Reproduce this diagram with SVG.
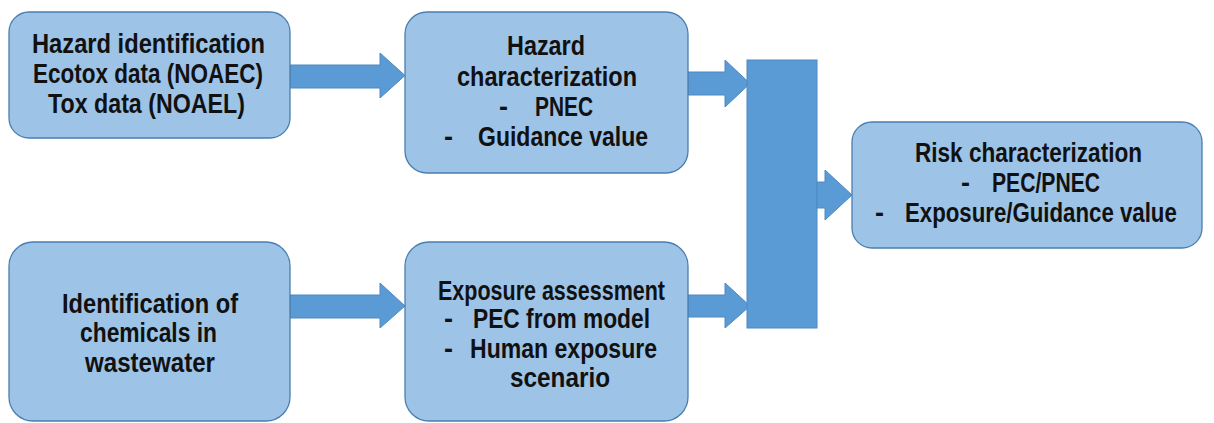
<svg xmlns="http://www.w3.org/2000/svg" width="1214" height="423" viewBox="0 0 1214 423">
<style>
.box{fill:#9DC3E6;stroke:#4A7EB0;stroke-width:1.3}
.arr{fill:#5B9BD5;stroke:#4F88C0;stroke-width:1}
text{font-family:"Liberation Sans",Arial,sans-serif;font-weight:bold;font-size:27px;fill:#111}
</style>
<rect width="1214" height="423" fill="#fff"/>
<g id="connectors">
<polygon class="arr" points="290,65 380,65 380,53 405,75.5 380,98 380,88 290,88"/>
<polygon class="arr" points="290,295 380,295 380,283 405,306 380,328 380,318 290,318"/>
<polygon class="arr" points="688,72 725,72 725,60 750,83.5 725,107 725,95 688,95"/>
<polygon class="arr" points="688,295 725,295 725,283 750,306 725,328 725,317 688,317"/>
<rect class="arr" x="747" y="60" width="70" height="268"/>
<polygon class="arr" points="817,182 825,182 825,170 852,195 825,220 825,208 817,208"/>
</g>
<g id="hazard-identification">
<rect class="box" x="9" y="12" width="281" height="126" rx="20"/>
<text x="32" y="53" textLength="233" lengthAdjust="spacingAndGlyphs">Hazard identification</text>
<text x="33" y="83" textLength="230" lengthAdjust="spacingAndGlyphs">Ecotox data (NOAEC)</text>
<text x="48" y="113" textLength="197" lengthAdjust="spacingAndGlyphs">Tox data (NOAEL)</text>
</g>
<g id="hazard-characterization">
<rect class="box" x="405" y="12" width="283" height="161" rx="22"/>
<text x="507" y="55" textLength="78" lengthAdjust="spacingAndGlyphs">Hazard</text>
<text x="457" y="86" textLength="180" lengthAdjust="spacingAndGlyphs">characterization</text>
<text y="116"><tspan x="499">-</tspan><tspan x="535" textLength="58" lengthAdjust="spacingAndGlyphs">PNEC</tspan></text>
<text y="146"><tspan x="444">-</tspan><tspan x="478" textLength="170" lengthAdjust="spacingAndGlyphs">Guidance value</tspan></text>
</g>
<g id="identification-chemicals">
<rect class="box" x="9" y="242" width="281" height="179" rx="24"/>
<text x="62" y="313" textLength="176" lengthAdjust="spacingAndGlyphs">Identification of</text>
<text x="80" y="342" textLength="137" lengthAdjust="spacingAndGlyphs">chemicals in</text>
<text x="85" y="372" textLength="130" lengthAdjust="spacingAndGlyphs">wastewater</text>
</g>
<g id="exposure-assessment">
<rect class="box" x="405" y="242" width="283" height="179" rx="24"/>
<text x="438" y="300" textLength="227" lengthAdjust="spacingAndGlyphs">Exposure assessment</text>
<text y="328"><tspan x="444">-</tspan><tspan x="473" textLength="177" lengthAdjust="spacingAndGlyphs">PEC from model</tspan></text>
<text y="358"><tspan x="444">-</tspan><tspan x="470" textLength="187" lengthAdjust="spacingAndGlyphs">Human exposure</tspan></text>
<text x="510" y="387" textLength="100" lengthAdjust="spacingAndGlyphs">scenario</text>
</g>
<g id="risk-characterization">
<rect class="box" x="852" y="122" width="350" height="126" rx="20"/>
<text x="915" y="162" textLength="227" lengthAdjust="spacingAndGlyphs">Risk characterization</text>
<text y="192"><tspan x="961">-</tspan><tspan x="992" textLength="108" lengthAdjust="spacingAndGlyphs">PEC/PNEC</tspan></text>
<text x="875" y="222">-</text>
<text transform="translate(905 222) scale(0.824 1)" x="0" y="0">Exposure/Guidance value</text>
</g>
</svg>
